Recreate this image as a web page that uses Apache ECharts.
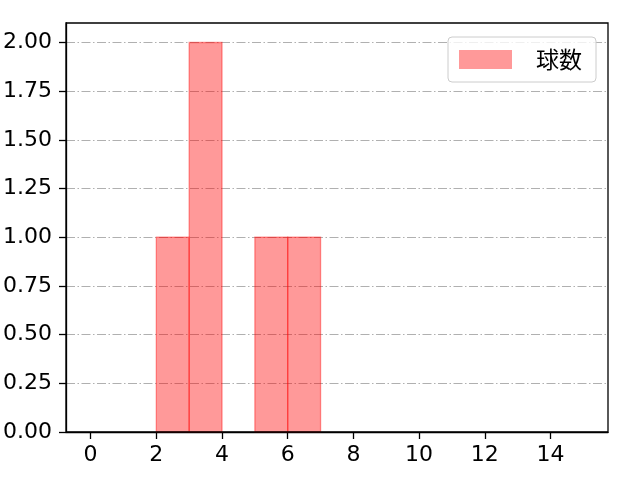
<!DOCTYPE html>
<html><head><meta charset="utf-8">
<script src="https://cdn.jsdelivr.net/npm/echarts@6/dist/echarts.min.js"></script>
<style>html,body{margin:0;padding:0;background:#fff}#c{width:640px;height:480px}</style>
</head><body><div id="c"></div>
<script>
const binStarts = [2, 3, 5, 6];
const binEnds = [3, 4, 6, 7];
const counts = [1, 2, 1, 1];
const xTicks = [0, 2, 4, 6, 8, 10, 12, 14];
const yTicks = [0, 0.25, 0.5, 0.75, 1.0, 1.25, 1.5, 1.75, 2.0];
const seriesName = '球数';

const NUMFONT = '"DejaVu Sans", sans-serif';
const CJKFONT = '"Noto Sans CJK JP", sans-serif';
const data = binStarts.map((s, i) => [s, binEnds[i], counts[i]]);
const chart = echarts.init(document.getElementById('c'), null, {renderer: 'canvas'});
chart.setOption({
  animation: false,
  backgroundColor: '#fff',
  grid: {left: 65, right: 32, top: 23, bottom: 48, show: true, borderColor: '#000', borderWidth: 1.3, backgroundColor: 'transparent', z: 10},
  legend: {
    show: true, right: 44, top: 37, orient: 'vertical',
    data: [{name: seriesName, icon: 'rect'}],
    itemWidth: 53, itemHeight: 19, itemGap: 10,
    padding: [11, 14, 11, 11],
    borderColor: '#cccccc', borderWidth: 1, borderRadius: 4, backgroundColor: 'rgba(255,255,255,0.8)',
    textStyle: {fontFamily: CJKFONT, fontSize: 23, color: '#000', padding: [0, 0, 0, 19]}
  },
  xAxis: {
    type: 'value', min: -0.75, max: 15.75,
    axisLine: {show: true, onZero: false, lineStyle: {color: '#000', width: 1.3}},
    axisTick: {show: true, length: 7, customValues: xTicks, lineStyle: {color: '#000', width: 1.3}},
    axisLabel: {customValues: xTicks, fontFamily: NUMFONT, fontSize: 22, color: '#000', margin: 12},
    splitLine: {show: false}
  },
  yAxis: {
    type: 'value', min: 0, max: 2.1, interval: 0.25,
    axisLine: {show: true, onZero: false, lineStyle: {color: '#000', width: 1.3}},
    axisTick: {show: true, length: 7, customValues: yTicks, lineStyle: {color: '#000', width: 1.3}},
    axisLabel: {customValues: yTicks, fontFamily: NUMFONT, fontSize: 22, color: '#000', margin: 14,
      formatter: v => v.toFixed(2)},
    splitLine: {show: true, lineStyle: {color: '#b0b0b0', width: 1.1, type: [9, 2.5, 1.5, 2.5]}}
  },
  series: [{
    type: 'custom', name: seriesName,
    itemStyle: {color: 'rgba(255,0,0,0.4)'},
    renderItem: function (params, api) {
      const p0 = api.coord([api.value(0), api.value(2)]);
      const p1 = api.coord([api.value(1), 0]);
      return {
        type: 'rect',
        shape: {x: p0[0], y: p0[1], width: p1[0] - p0[0], height: p1[1] - p0[1]},
        style: {fill: 'rgba(255,0,0,0.4)', stroke: 'rgba(255,0,0,0.4)', lineWidth: 1.3}
      };
    },
    encode: {x: [0, 1], y: 2},
    data: data
  }]
});
</script></body></html>
